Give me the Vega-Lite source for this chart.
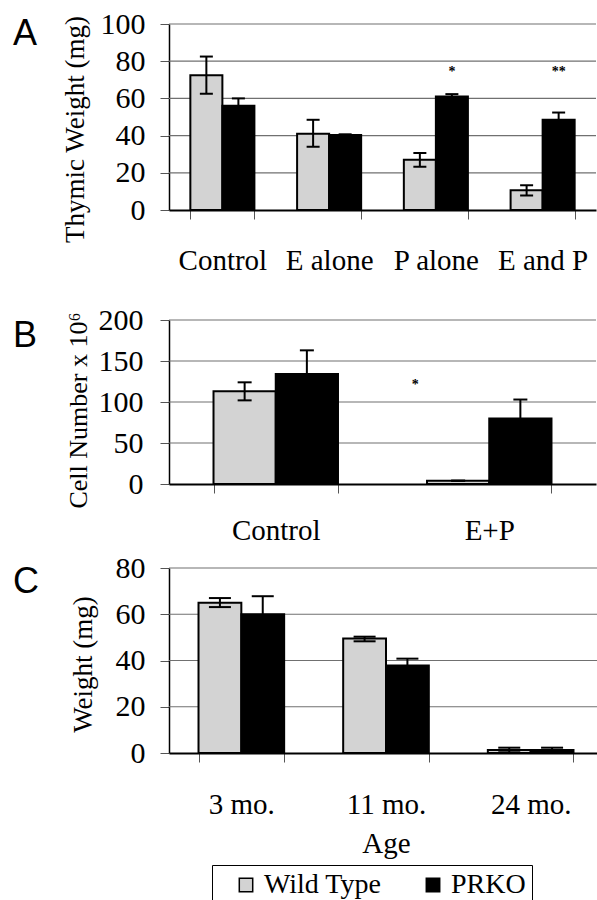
{
  "$schema": "https://vega.github.io/schema/vega-lite/v6.json",
  "padding": {"left": 13, "top": 9, "right": 0, "bottom": 0},
  "background": "white",
  "bounds": "flush",
  "spacing": 110,
  "resolve": {"scale": {"xOffset": "independent"}},
  "vconcat": [
    {
      "width": 427,
      "height": 186,
      "title": {"text": "A", "anchor": "start", "frame": "group", "orient": "top", "dx": -156, "dy": 44, "offset": 0, "baseline": "top", "font": "Liberation Sans", "fontSize": 36, "fontWeight": "normal", "color": "black"},
      "resolve": {"axis": {"y": "independent"}},
      "data": {"values": [
        {"group": "Control", "genotype": "Wild Type", "value": 72.5, "lo": 62.5, "hi": 82.5},
        {"group": "Control", "genotype": "PRKO", "value": 56, "lo": 52, "hi": 60},
        {"group": "E alone", "genotype": "Wild Type", "value": 41, "lo": 34, "hi": 48.5},
        {"group": "E alone", "genotype": "PRKO", "value": 40.3, "lo": 39.9, "hi": 40.7},
        {"group": "P alone", "genotype": "Wild Type", "value": 27, "lo": 23.2, "hi": 30.6},
        {"group": "P alone", "genotype": "PRKO", "value": 61, "lo": 59.7, "hi": 62.3},
        {"group": "E and P", "genotype": "Wild Type", "value": 10.6, "lo": 7.8, "hi": 13.3},
        {"group": "E and P", "genotype": "PRKO", "value": 48.5, "lo": 44.5, "hi": 52.4}
      ]},
      "layer": [
        {
          "data": {"values": [{"gridv": 20}, {"gridv": 40}, {"gridv": 60}, {"gridv": 80}, {"gridv": 100}]},
          "mark": {"type": "rule", "color": "#707070", "strokeWidth": 1.2},
          "encoding": {"y": {"field": "gridv", "type": "quantitative", "axis": null}, "x": {"value": 0}, "x2": {"value": 427}}
        },
        {
          "mark": {"type": "bar", "stroke": "black", "strokeWidth": 2},
          "encoding": {
            "x": {"field": "group", "type": "nominal", "sort": ["Control", "E alone", "P alone", "E and P"], "scale": {"paddingInner": 0.4, "paddingOuter": 0.2}, "axis": {"title": null, "labelPadding": 27}},
            "xOffset": {"field": "genotype", "type": "nominal", "sort": ["Wild Type", "PRKO"], "scale": {"paddingInner": 0, "paddingOuter": 0}},
            "y": {"field": "value", "type": "quantitative", "scale": {"domain": [0, 100], "nice": false},
              "axis": {"values": [0, 20, 40, 60, 80, 100], "title": "Thymic Weight (mg)", "titleX": -94, "titleY": 105, "labelPadding": 15, "grid": false, "labelOverlap": false, "labelFontSize": 30}},
            "color": {"field": "genotype", "type": "nominal", "sort": ["Wild Type", "PRKO"], "scale": {"domain": ["Wild Type", "PRKO"], "range": ["#d3d3d3", "#000000"]}, "legend": {"title": null}}
          }
        },
        {
          "mark": {"type": "rule", "color": "black", "strokeWidth": 2},
          "encoding": {
            "x": {"field": "group", "type": "nominal", "sort": ["Control", "E alone", "P alone", "E and P"]},
            "xOffset": {"field": "genotype", "type": "nominal", "sort": ["Wild Type", "PRKO"]},
            "y": {"field": "lo", "type": "quantitative", "axis": null}, "y2": {"field": "hi"}}
        },
        {
          "mark": {"type": "tick", "color": "black", "thickness": 2, "size": 13, "opacity": 1},
          "encoding": {
            "x": {"field": "group", "type": "nominal", "sort": ["Control", "E alone", "P alone", "E and P"]},
            "xOffset": {"field": "genotype", "type": "nominal", "sort": ["Wild Type", "PRKO"]},
            "y": {"field": "lo", "type": "quantitative", "axis": null}}
        },
        {
          "mark": {"type": "tick", "color": "black", "thickness": 2, "size": 13, "opacity": 1},
          "encoding": {
            "x": {"field": "group", "type": "nominal", "sort": ["Control", "E alone", "P alone", "E and P"]},
            "xOffset": {"field": "genotype", "type": "nominal", "sort": ["Wild Type", "PRKO"]},
            "y": {"field": "hi", "type": "quantitative", "axis": null}}
        },
        {
          "data": {"values": [
            {"group": "P alone", "genotype": "PRKO", "pos": 72, "label": "*"},
            {"group": "E and P", "genotype": "PRKO", "pos": 72, "label": "**"}
          ]},
          "mark": {"type": "text", "font": "Liberation Serif", "fontSize": 14, "fontWeight": "bold", "color": "black", "baseline": "alphabetic"},
          "encoding": {
            "x": {"field": "group", "type": "nominal", "sort": ["Control", "E alone", "P alone", "E and P"]},
            "xOffset": {"field": "genotype", "type": "nominal", "sort": ["Wild Type", "PRKO"]},
            "y": {"field": "pos", "type": "quantitative", "axis": null}, "text": {"field": "label"}}
        }
      ]
    },
    {
      "bounds": "flush",
      "spacing": 84,
      "resolve": {"scale": {"xOffset": "independent"}},
      "vconcat": [
        {
          "width": 427,
          "height": 164,
          "title": {"text": "B", "anchor": "start", "frame": "group", "orient": "top", "dx": -156, "dy": 50, "offset": 0, "baseline": "top", "font": "Liberation Sans", "fontSize": 36, "fontWeight": "normal", "color": "black"},
          "resolve": {"axis": {"y": "independent"}},
          "data": {"values": [
            {"group": "Control", "genotype": "Wild Type", "value": 113, "lo": 102, "hi": 124},
            {"group": "Control", "genotype": "PRKO", "value": 134, "lo": 105, "hi": 163},
            {"group": "E+P", "genotype": "Wild Type", "value": 4, "lo": 4, "hi": 4},
            {"group": "E+P", "genotype": "PRKO", "value": 80, "lo": 57, "hi": 103}
          ]},
          "layer": [
            {
              "data": {"values": [{"gridv": 50}, {"gridv": 100}, {"gridv": 150}, {"gridv": 200}]},
              "mark": {"type": "rule", "color": "#707070", "strokeWidth": 1.2},
              "encoding": {"y": {"field": "gridv", "type": "quantitative", "axis": null}, "x": {"value": 0}, "x2": {"value": 427}}
            },
            {
              "mark": {"type": "bar", "stroke": "black", "strokeWidth": 2},
              "encoding": {
                "x": {"field": "group", "type": "nominal", "sort": ["Control", "E+P"], "scale": {"paddingInner": 0.417, "paddingOuter": 0.2085}, "axis": {"title": null, "labelPadding": 23}},
                "xOffset": {"field": "genotype", "type": "nominal", "sort": ["Wild Type", "PRKO"], "scale": {"paddingInner": 0, "paddingOuter": 0}},
                "y": {"field": "value", "type": "quantitative", "scale": {"domain": [0, 200], "nice": false},
                  "axis": {"values": [0, 50, 100, 150, 200], "title": "Cell Number x 10⁶", "titleX": -91, "titleY": 90, "labelPadding": 17, "titleFontSize": 26, "grid": false, "labelOverlap": false, "labelFontSize": 30}},
                "color": {"field": "genotype", "type": "nominal", "sort": ["Wild Type", "PRKO"], "scale": {"domain": ["Wild Type", "PRKO"], "range": ["#d3d3d3", "#000000"]}, "legend": {"title": null}}
              }
            },
            {
              "mark": {"type": "rule", "color": "black", "strokeWidth": 2},
              "encoding": {
                "x": {"field": "group", "type": "nominal", "sort": ["Control", "E+P"]},
                "xOffset": {"field": "genotype", "type": "nominal", "sort": ["Wild Type", "PRKO"]},
                "y": {"field": "lo", "type": "quantitative", "axis": null}, "y2": {"field": "hi"}}
            },
            {
              "mark": {"type": "tick", "color": "black", "thickness": 2, "size": 14, "opacity": 1},
              "encoding": {
                "x": {"field": "group", "type": "nominal", "sort": ["Control", "E+P"]},
                "xOffset": {"field": "genotype", "type": "nominal", "sort": ["Wild Type", "PRKO"]},
                "y": {"field": "lo", "type": "quantitative", "axis": null}}
            },
            {
              "mark": {"type": "tick", "color": "black", "thickness": 2, "size": 14, "opacity": 1},
              "encoding": {
                "x": {"field": "group", "type": "nominal", "sort": ["Control", "E+P"]},
                "xOffset": {"field": "genotype", "type": "nominal", "sort": ["Wild Type", "PRKO"]},
                "y": {"field": "hi", "type": "quantitative", "axis": null}}
            },
            {
              "data": {"values": [
                {"group": "E+P", "genotype": "Wild Type", "pos": 116, "label": "*"}
              ]},
              "mark": {"type": "text", "font": "Liberation Serif", "fontSize": 14, "fontWeight": "bold", "color": "black", "baseline": "alphabetic", "dx": -43},
              "encoding": {
                "x": {"field": "group", "type": "nominal", "sort": ["Control", "E+P"]},
                "xOffset": {"field": "genotype", "type": "nominal", "sort": ["Wild Type", "PRKO"]},
                "y": {"field": "pos", "type": "quantitative", "axis": null}, "text": {"field": "label"}}
            }
          ]
        },
        {
          "width": 434,
          "height": 185,
          "title": {"text": "C", "anchor": "start", "frame": "group", "orient": "top", "dx": -156, "dy": 48, "offset": 0, "baseline": "top", "font": "Liberation Sans", "fontSize": 36, "fontWeight": "normal", "color": "black"},
          "resolve": {"axis": {"y": "independent"}},
          "data": {"values": [
            {"group": "3 mo.", "genotype": "Wild Type", "value": 65, "lo": 63.1, "hi": 67},
            {"group": "3 mo.", "genotype": "PRKO", "value": 60, "lo": 52.2, "hi": 67.8},
            {"group": "11 mo.", "genotype": "Wild Type", "value": 49.5, "lo": 48.3, "hi": 50.3},
            {"group": "11 mo.", "genotype": "PRKO", "value": 37.8, "lo": 34.8, "hi": 40.8},
            {"group": "24 mo.", "genotype": "Wild Type", "value": 1.3, "lo": 0.3, "hi": 2.3},
            {"group": "24 mo.", "genotype": "PRKO", "value": 1.3, "lo": 0.3, "hi": 2.3}
          ]},
          "layer": [
            {
              "data": {"values": [{"gridv": 20}, {"gridv": 40}, {"gridv": 60}, {"gridv": 80}]},
              "mark": {"type": "rule", "color": "#707070", "strokeWidth": 1.2},
              "encoding": {"y": {"field": "gridv", "type": "quantitative", "axis": null}, "x": {"value": 0}, "x2": {"value": 434}}
            },
            {
              "mark": {"type": "bar", "stroke": "black", "strokeWidth": 2},
              "encoding": {
                "x": {"field": "group", "type": "nominal", "sort": ["3 mo.", "11 mo.", "24 mo."], "scale": {"paddingInner": 0.408, "paddingOuter": 0.204}, "axis": {"title": "Age", "labelPadding": 28, "titlePadding": 10, "titleFontSize": 29}},
                "xOffset": {"field": "genotype", "type": "nominal", "sort": ["Wild Type", "PRKO"], "scale": {"paddingInner": 0, "paddingOuter": 0}},
                "y": {"field": "value", "type": "quantitative", "scale": {"domain": [0, 80], "nice": false},
                  "axis": {"values": [0, 20, 40, 60, 80], "title": "Weight (mg)", "titleX": -86, "titleY": 96, "labelPadding": 15, "grid": false, "labelOverlap": false, "labelFontSize": 30}},
                "color": {"field": "genotype", "type": "nominal", "sort": ["Wild Type", "PRKO"], "scale": {"domain": ["Wild Type", "PRKO"], "range": ["#d3d3d3", "#000000"]}, "legend": {"title": null}}
              }
            },
            {
              "mark": {"type": "rule", "color": "black", "strokeWidth": 2},
              "encoding": {
                "x": {"field": "group", "type": "nominal", "sort": ["3 mo.", "11 mo.", "24 mo."]},
                "xOffset": {"field": "genotype", "type": "nominal", "sort": ["Wild Type", "PRKO"]},
                "y": {"field": "lo", "type": "quantitative", "axis": null}, "y2": {"field": "hi"}}
            },
            {
              "mark": {"type": "tick", "color": "black", "thickness": 2, "size": 22, "opacity": 1},
              "encoding": {
                "x": {"field": "group", "type": "nominal", "sort": ["3 mo.", "11 mo.", "24 mo."]},
                "xOffset": {"field": "genotype", "type": "nominal", "sort": ["Wild Type", "PRKO"]},
                "y": {"field": "lo", "type": "quantitative", "axis": null}}
            },
            {
              "mark": {"type": "tick", "color": "black", "thickness": 2, "size": 22, "opacity": 1},
              "encoding": {
                "x": {"field": "group", "type": "nominal", "sort": ["3 mo.", "11 mo.", "24 mo."]},
                "xOffset": {"field": "genotype", "type": "nominal", "sort": ["Wild Type", "PRKO"]},
                "y": {"field": "hi", "type": "quantitative", "axis": null}}
            }
          ]
        }
      ]
    }
  ],
  "config": {
    "view": {"stroke": null},
    "font": "Liberation Serif",
    "axis": {"labelFont": "Liberation Serif", "titleFont": "Liberation Serif", "labelColor": "black", "titleColor": "black", "titleFontWeight": "normal", "tickColor": "#555555", "tickSize": 9, "domainColor": "black", "labelOverlap": false},
    "axisY": {"grid": false, "domainWidth": 1.5, "labelFontSize": 30, "titleFontSize": 27, "titleBaseline": "middle", "labelOverlap": false},
    "axisX": {"grid": false, "domainWidth": 2, "labelFontSize": 29, "labelAngle": 0, "tickBand": "extent"},
    "legend": {"orient": "none", "legendX": 43, "legendY": 841, "direction": "horizontal", "padding": 6, "strokeColor": "black", "symbolType": "square", "symbolSize": 180, "symbolStrokeColor": "black", "symbolStrokeWidth": 1.5, "symbolOpacity": 1, "symbolOffset": 14, "labelFont": "Liberation Serif", "labelFontSize": 28, "labelColor": "black", "labelOffset": 4, "columnPadding": 23, "labelLimit": 300}
  }
}
